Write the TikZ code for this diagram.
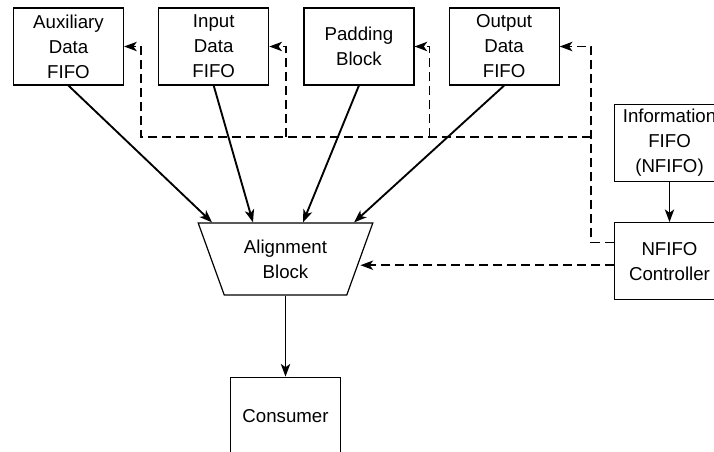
\documentclass[tikz,border=0pt]{standalone}
\usepackage{fontspec}
\setmainfont{Liberation Sans}
\usetikzlibrary{shapes.geometric, arrows.meta, positioning, calc}

\begin{document}
\begin{tikzpicture}[
    x=0.75pt, y=-0.75pt,
    every node/.style={font=\fontsize{14}{18.75}\selectfont},
    blk/.style={rectangle, draw, line width=0.9pt, minimum height=57.75pt, minimum width=82.5pt, inner sep=2pt, align=center},
    mux/.style={trapezium, draw, line width=0.9pt, shape border rotate=180, trapezium stretches=true, trapezium angle=67.7, minimum width=132pt, minimum height=54pt, align=center},
    arr/.style={-{Stealth[length=9.5pt, width=7pt, inset=2.5pt]}, line width=1.4pt},
    ctl/.style={arr, dash pattern=on 7pt off 3.5pt}
]
    \useasboundingbox (0,0) rectangle (714,451);
    \clip (0,0) rectangle (714,451);

    % buffers feeding the aligner
    \node (auxf) [blk] at (68.5,46.5) {Auxiliary\\Data\\FIFO};
    \node (inf) [blk, right=25.5pt of auxf] {Input\\Data\\FIFO};
    \node (pad) [blk, right=25.5pt of inf] {Padding\\Block};
    \node (outf) [blk, right=25.5pt of pad] {Output\\Data\\FIFO};

    \node (info) [blk] at (669.5,143) {Information\\FIFO\\(NFIFO)};
    \node (ctrl) [blk, below=30pt of info] {NFIFO\\Controller};

    \node (align) [mux] at (285.5,259) {Alignment\\Block};
    \node (cons) [blk, below=60.75pt of align] {Consumer};

    % data paths
    \draw[arr] (auxf.south) -- ([xshift=-55.1pt]align.north);
    \draw[arr] (inf.south) -- ([xshift=-24.4pt]align.north);
    \draw[arr] (pad.south) -- ([xshift=13.1pt]align.north);
    \draw[arr] (outf.south) -- ([xshift=51.4pt]align.north);
    \draw[arr] (align.south) -- (cons.north);
    \draw[arr] (info.south) -- (ctrl.north);

    % control lines from the controller
    \coordinate (bus) at (591,137);
    \draw[ctl] ([yshift=14pt]ctrl.west) -| (bus) |- (outf.east);
    \draw[ctl] (bus) -| ([xshift=12.75pt]auxf.east) -- (auxf.east);
    \foreach \b/\d in {inf/12.75pt, pad/11.25pt}
        \draw[ctl] ([xshift=\d]\b.east |- bus) |- (\b.east);
    \draw[ctl] ([yshift=-3pt]ctrl.west) -- ([yshift=-3pt]ctrl.west -| align.east);
\end{tikzpicture}
\end{document}
